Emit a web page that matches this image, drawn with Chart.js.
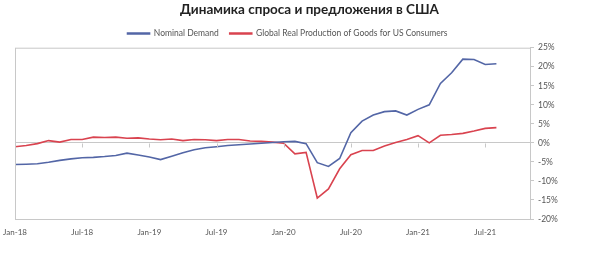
<!DOCTYPE html>
<html>
<head>
<meta charset="utf-8">
<script src="https://cdn.jsdelivr.net/npm/chart.js@4.4.0/dist/chart.umd.min.js"></script>
<style>
  html, body { margin: 0; padding: 0; background: #fff; }
  #wrap { width: 590px; height: 263px; }
</style>
</head>
<body>
<div id="wrap"><canvas id="grafico" width="590" height="263"></canvas></div>
<script>
// месяцы с Jan-18 по Nov-21 (ось идёт чуть дальше данных)
const meses = [
  "Jan-18","Feb-18","Mar-18","Apr-18","May-18","Jun-18","Jul-18","Aug-18","Sep-18","Oct-18","Nov-18","Dec-18",
  "Jan-19","Feb-19","Mar-19","Apr-19","May-19","Jun-19","Jul-19","Aug-19","Sep-19","Oct-19","Nov-19","Dec-19",
  "Jan-20","Feb-20","Mar-20","Apr-20","May-20","Jun-20","Jul-20","Aug-20","Sep-20","Oct-20","Nov-20","Dec-20",
  "Jan-21","Feb-21","Mar-21","Apr-21","May-21","Jun-21","Jul-21","Aug-21","Sep-21","Oct-21","Nov-21"
];

// Nominal Demand, %
const nominalDemand = [
  -5.7, -5.6, -5.5, -5.1, -4.6, -4.2, -3.9, -3.8, -3.6, -3.3, -2.7, -3.2,
  -3.7, -4.4, -3.5, -2.6, -1.8, -1.3, -1.0, -0.7, -0.5, -0.3, -0.1, 0.1,
  0.3, 0.4, -0.2, -5.2, -6.2, -4.1, 2.7, 5.7, 7.3, 8.2, 8.4, 7.3,
  8.8, 10.0, 15.6, 18.4, 22.0, 21.9, 20.6, 20.8
];

// Global Real Production of Goods for US Consumers, %
const realProduction = [
  -1.0, -0.7, -0.2, 0.6, 0.2, 0.9, 0.9, 1.5, 1.4, 1.5, 1.2, 1.3,
  1.0, 0.8, 1.0, 0.6, 0.9, 0.8, 0.6, 0.9, 0.9, 0.5, 0.4, 0.2,
  -0.1, -2.9, -2.5, -14.5, -12.1, -6.8, -3.1, -2.0, -2.0, -0.8, 0.1, 0.9,
  1.9, 0.0, 2.0, 2.2, 2.5, 3.1, 3.8, 4.0
];

const corAzul = "#5366a6";
const corVermelha = "#d9434f";
const corCinza = "#c8c8c8";
const corTexto = "#555";

// рамка вокруг области графика + засечки на нулевой линии
const molduraPlugin = {
  id: "moldura",
  afterLayout(chart) {
    // в оригинале заголовок чуть правее, а легенда левее центра
    chart.titleBlock.left += 7;
    chart.titleBlock.right += 7;
    chart.legend.left -= 15;
    chart.legend.right -= 15;
  },
  afterDraw(chart) {
    const { ctx, chartArea: a, scales } = chart;
    ctx.save();
    ctx.strokeStyle = corCinza;
    ctx.lineWidth = 1;
    ctx.strokeRect(a.left + 0.5, a.top + 0.5, a.right - a.left, a.bottom - a.top);
    const y0 = Math.round(scales.y.getPixelForValue(0)) + 0.5;
    meses.forEach((m, i) => {
      if (i > 0 && i % 6 === 0) {
        const x = Math.round(scales.x.getPixelForValue(i)) + 0.5;
        ctx.beginPath();
        ctx.moveTo(x, y0);
        ctx.lineTo(x, y0 + 4);
        ctx.stroke();
      }
    });
    ctx.restore();
  },
};

new Chart(document.getElementById("grafico"), {
  type: "line",
  data: {
    labels: meses,
    datasets: [
      {
        label: "Nominal Demand",
        data: nominalDemand,
        borderColor: corAzul,
        backgroundColor: corAzul,
        borderWidth: 1.6,
        pointRadius: 0,
        tension: 0,
      },
      {
        label: "Global Real Production of Goods for US Consumers",
        data: realProduction,
        borderColor: corVermelha,
        backgroundColor: corVermelha,
        borderWidth: 1.6,
        pointRadius: 0,
        tension: 0,
      },
    ],
  },
  options: {
    responsive: false,
    animation: false,
    layout: { padding: { left: 15, right: 0, top: 2, bottom: 22 } },
    plugins: {
      title: {
        display: true,
        text: "Динамика спроса и предложения в США",
        color: "#222",
        font: { family: "Lato", size: 13.5, weight: "bold" },
        padding: { top: 0, bottom: 0 },
      },
      legend: {
        labels: {
          boxWidth: 22,
          boxHeight: 1,
          color: corTexto,
          padding: 11,
          font: { family: "Lato", size: 8.5 },
        },
      },
      tooltip: { enabled: false },
    },
    scales: {
      x: {
        type: "category",
        offset: false,
        grid: { display: false },
        border: { display: false },
        ticks: {
          autoSkip: false,
          maxRotation: 0,
          color: corTexto,
          font: { family: "Lato", size: 8 },
          padding: 1,
          callback: (v, i) => (i % 6 === 0 ? meses[i] : ""),
        },
        afterFit: (s) => { s.height = 22; },
      },
      y: {
        position: "right",
        min: -20,
        max: 25,
        border: { display: false },
        grid: {
          color: (c) => (c.tick && c.tick.value === 0 ? corCinza : "transparent"),
          tickColor: corCinza,
          tickLength: 4,
        },
        ticks: {
          stepSize: 5,
          color: corTexto,
          padding: 4,
          font: { family: "Lato", size: 8.5 },
          callback: (v) => v + "%",
        },
        afterFit: (s) => { s.width = 60; },
      },
    },
  },
  plugins: [molduraPlugin],
});
</script>
</body>
</html>
